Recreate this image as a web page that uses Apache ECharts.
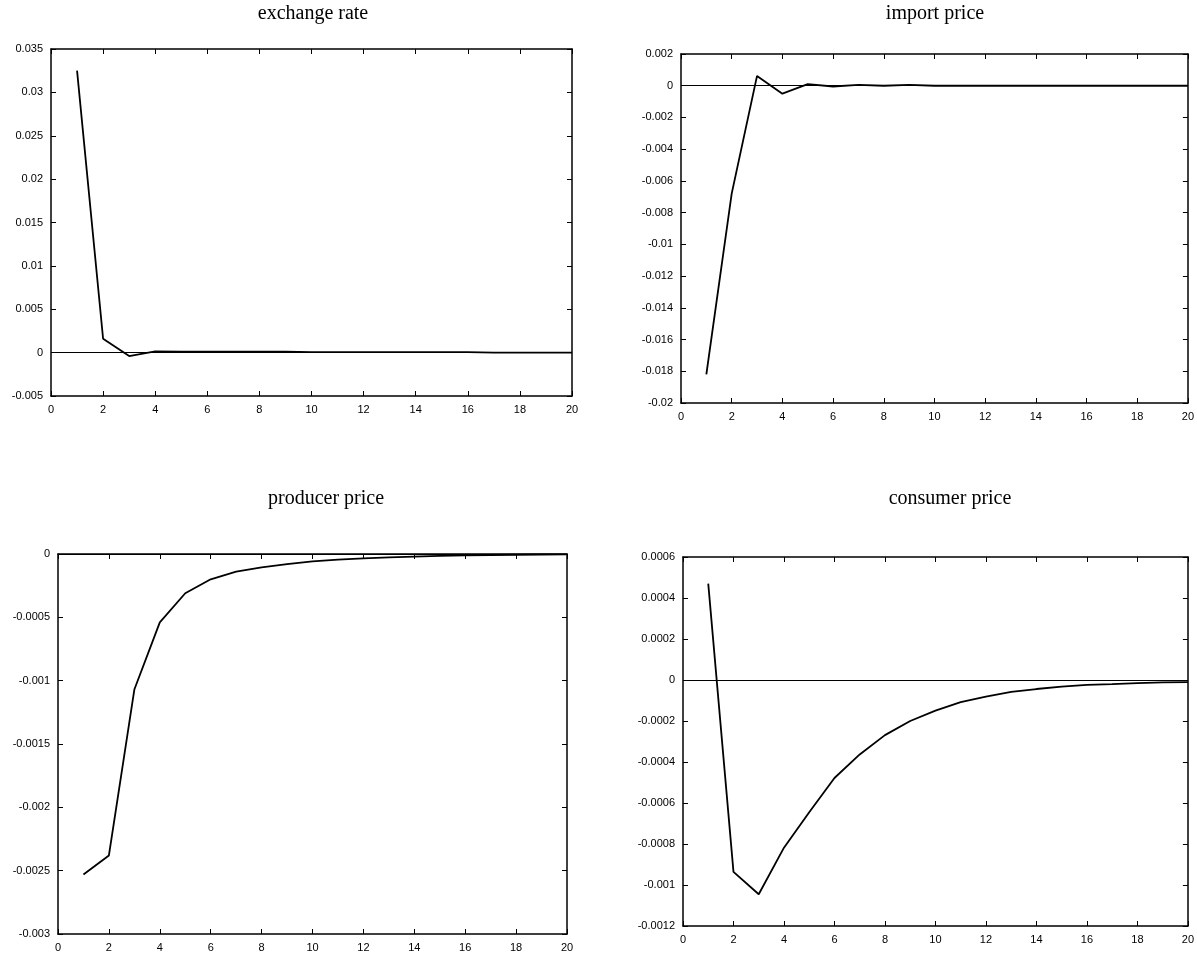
<!DOCTYPE html>
<html><head><meta charset="utf-8">
<script src="https://cdn.jsdelivr.net/npm/echarts@6/dist/echarts.min.js"></script>
<style>html,body{margin:0;padding:0;background:#fff}#c{width:1197px;height:960px}</style>
</head><body><div id="c"></div>
<script>
// ---- data ----
const periods = [1,2,3,4,5,6,7,8,9,10,11,12,13,14,15,16,17,18,19,20];
const exchangeRate = [0.0325, 0.0016, -0.0004, 0.00015, 0.0001, 0.0001, 0.0001, 0.0001, 0.0001, 0.00005,
  0.00005, 0.00005, 0.00005, 0.00005, 0.00005, 0.00005, 0.0, 0.0, 0.0, 0.0];
const importPrice = [-0.0182, -0.0068, 0.00062, -0.0005, 0.0001, -0.00005, 0.00005, 0.0, 0.00005, 0.0,
  0.0, 0.0, 0.0, 0.0, 0.0, 0.0, 0.0, 0.0, 0.0, 0.0];
const producerPrice = [-0.00253, -0.00238, -0.00107, -0.00054, -0.00031, -0.0002, -0.00014, -0.000105, -0.00008, -0.000058,
  -0.000045, -0.000034, -0.000026, -0.00002, -0.000015, -0.000011, -0.000008, -0.000006, -0.000004, -0.000003];
const consumerPrice = [0.00047, -0.000936, -0.001045, -0.000818, -0.000645, -0.000478, -0.000363, -0.000269, -0.0002, -0.000149,
  -0.000108, -0.000081, -0.000058, -0.000044, -0.000032, -0.000024, -0.00002, -0.000015, -0.000012, -0.00001];
const titles = ['exchange rate', 'import price', 'producer price', 'consumer price'];
const xTicks = [0, 20, 2];                       // min, max, interval
const yTicks = [[-0.005, 0.035, 0.005], [-0.02, 0.002, 0.002], [-0.003, 0, 0.0005], [-0.0012, 0.0006, 0.0002]];
const seriesData = [exchangeRate, importPrice, producerPrice, consumerPrice];

// ---- layout ----
const grids = [
  {left: 51, top: 49, width: 521, height: 347},
  {left: 681, top: 54, width: 511, height: 349},
  {left: 58, top: 554, width: 509, height: 380},
  {left: 683, top: 557, width: 509, height: 369}
];
const titlePos = [[313, 14], [935, 14], [326, 499], [950, 499]];

const lbl = {color: '#000', fontFamily: 'Liberation Sans, Arial, sans-serif', fontSize: 11};
const tick = {inside: true, length: 5, lineStyle: {color: '#000', width: 1}};
const aLine = {show: true, onZero: false, lineStyle: {color: '#000', width: 1.5}};

const xAxis = [], yAxis = [], series = [];
grids.forEach((g, i) => {
  xAxis.push({type: 'value', gridIndex: i, position: 'bottom', min: xTicks[0], max: xTicks[1], interval: xTicks[2],
    axisLine: aLine, axisTick: tick, axisLabel: Object.assign({margin: 8}, lbl), splitLine: {show: false}});
  xAxis.push({type: 'value', gridIndex: i, position: 'top', min: xTicks[0], max: xTicks[1], interval: xTicks[2],
    axisLine: aLine, axisTick: tick, axisLabel: {show: false}, splitLine: {show: false}});
  const [mn, mx, iv] = yTicks[i];
  yAxis.push({type: 'value', gridIndex: i, position: 'left', min: mn, max: mx, interval: iv,
    axisLine: aLine, axisTick: tick, axisLabel: Object.assign({margin: 8}, lbl), splitLine: {show: false}});
  yAxis.push({type: 'value', gridIndex: i, position: 'right', min: mn, max: mx, interval: iv,
    axisLine: aLine, axisTick: tick, axisLabel: {show: false}, splitLine: {show: false}});
  series.push({
    type: 'line', xAxisIndex: 2 * i, yAxisIndex: 2 * i, symbol: 'none', animation: false,
    data: periods.map((p, k) => [p, seriesData[i][k]]),
    lineStyle: {color: '#000', width: 1.8},
    markLine: {silent: true, symbol: 'none', label: {show: false}, animation: false,
      lineStyle: {color: '#000', width: 1, type: 'solid'}, data: [{yAxis: 0}]}
  });
});

const chart = echarts.init(document.getElementById('c'), null, {renderer: 'canvas'});
chart.setOption({
  animation: false,
  backgroundColor: '#fff',
  grid: grids.map(g => Object.assign({containLabel: false}, g)),
  xAxis, yAxis, series,
  graphic: titles.map((t, i) => ({
    type: 'text', x: titlePos[i][0], y: titlePos[i][1],
    style: {text: t, fill: '#000', font: '20px "Liberation Serif", "Times New Roman", serif',
      textAlign: 'center', textVerticalAlign: 'middle'}
  }))
});
</script></body></html>
